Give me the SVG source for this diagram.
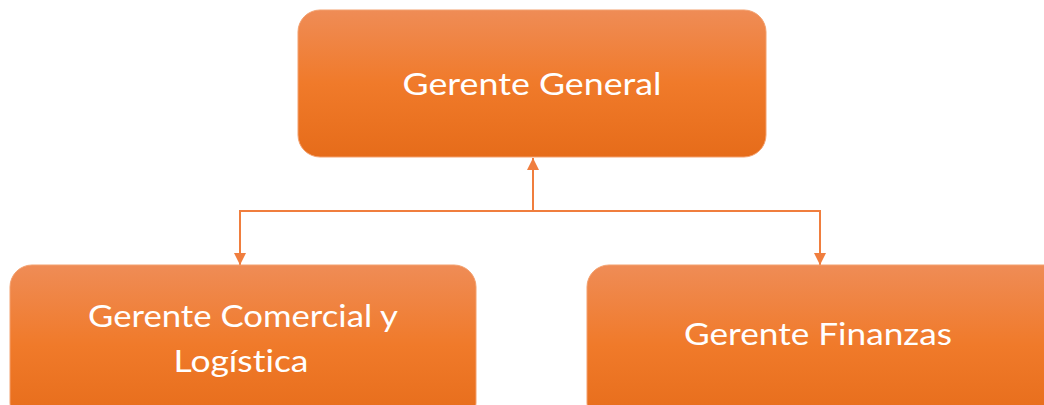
<svg xmlns="http://www.w3.org/2000/svg" width="1044" height="405" viewBox="0 0 1044 405">
<defs>
<linearGradient id="g" x1="0" y1="0" x2="0" y2="1">
<stop offset="0" stop-color="#EF8C56"/>
<stop offset="0.5" stop-color="#F07A2A"/>
<stop offset="1" stop-color="#E66C1A"/>
</linearGradient>
<marker id="ahd" markerWidth="13" markerHeight="12" refX="12" refY="6" orient="auto" markerUnits="userSpaceOnUse" viewBox="0 0 13 12">
<path d="M0,0 L12,6 L0,12 Z" fill="#F07E3E"/>
</marker>
</defs>
<style>
.box{fill:url(#g);stroke:#F3A06E;stroke-width:1}
.lbl{font-family:Lato,"Open Sans","Liberation Sans",sans-serif;font-size:31px;font-weight:400;fill:#FFFFFF;text-anchor:middle;font-variant-ligatures:none}
.conn{fill:none;stroke:#F07E3E;stroke-width:2}
</style>
<g id="connectors">
<path class="conn" d="M533,211 L533,158" marker-end="url(#ahd)"/>
<path class="conn" d="M533,211 L240,211 L240,265" marker-end="url(#ahd)"/>
<path class="conn" d="M533,211 L820,211 L820,265" marker-end="url(#ahd)"/>
</g>
<g id="node-general">
<rect class="box" x="298" y="10" width="468" height="147" rx="22"/>
<text class="lbl" x="532" y="95" textLength="259" lengthAdjust="spacingAndGlyphs">Gerente General</text>
</g>
<g id="node-comercial">
<rect class="box" x="10" y="265" width="466" height="160" rx="22"/>
<text class="lbl" x="243" y="327" textLength="310" lengthAdjust="spacingAndGlyphs">Gerente Comercial y</text>
<text class="lbl" x="241" y="372" textLength="135" lengthAdjust="spacingAndGlyphs">Logística</text>
</g>
<g id="node-finanzas">
<rect class="box" x="587" y="265" width="480" height="160" rx="22"/>
<text class="lbl" x="818" y="345" textLength="268" lengthAdjust="spacingAndGlyphs">Gerente Finanzas</text>
</g>
</svg>
